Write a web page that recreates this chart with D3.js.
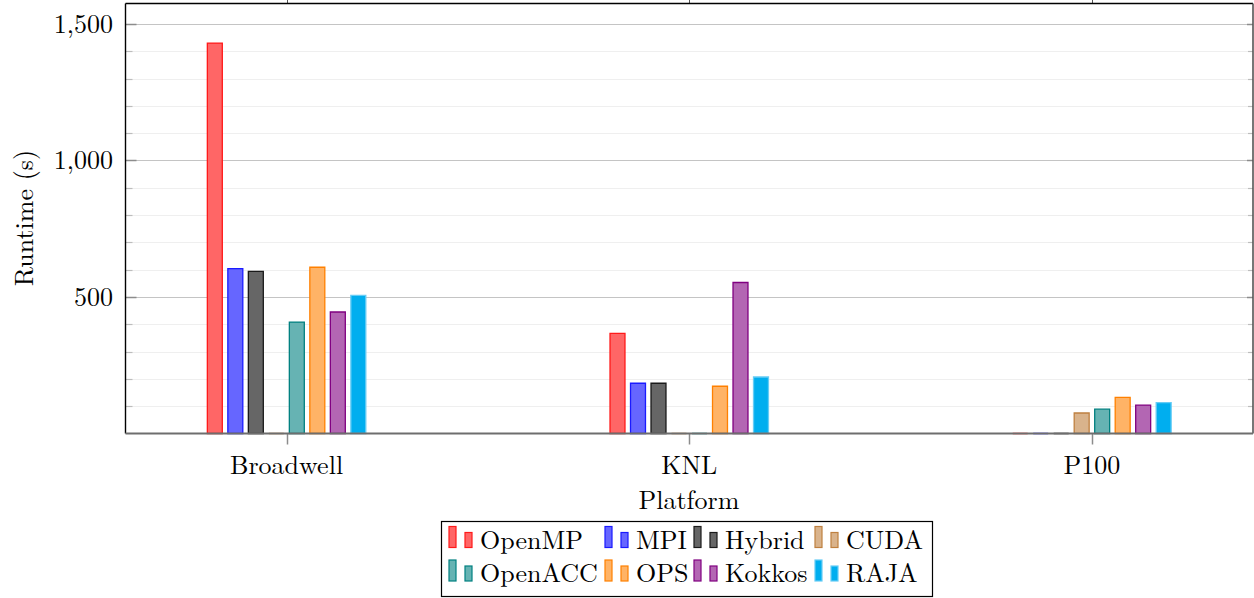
<!DOCTYPE html>
<html>
<head>
<meta charset="utf-8">
<script src="https://cdn.jsdelivr.net/npm/d3@7"></script>
<style>
  html, body { margin: 0; padding: 0; background: #fff; }
  svg { display: block; }
</style>
</head>
<body>
<svg id="chart" width="1254" height="598"></svg>
<script>
// Runtime (s) per programming model on each platform
const platforms = ["Broadwell", "KNL", "P100"];
const models = ["OpenMP", "MPI", "Hybrid", "CUDA", "OpenACC", "OPS", "Kokkos", "RAJA"];
const openmp  = [1430, 367, 0];
const mpi     = [604, 184, 0];
const hybrid  = [594, 184, 0];
const cuda    = [0, 0, 75];
const openacc = [408, 0, 89];
const ops     = [609, 173, 132];
const kokkos  = [445, 553, 104];
const raja    = [506, 207, 113];
const yTicks = [500, 1000, 1500];
const yMinorTicks = [100, 200, 300, 400, 600, 700, 800, 900, 1100, 1200, 1300, 1400];

const seriesValues = [openmp, mpi, hybrid, cuda, openacc, ops, kokkos, raja];
const fills   = ["#ff6666", "#6666ff", "#666666", "#d9b38c", "#66b3b3", "#ffb366", "#b366b3", "#00aeef"];
const strokes = ["#ff1a1a", "#1a1aff", "#1a1a1a", "#bf8040", "#008080", "#ff8000", "#800080", "#66ccf5"];

const FONT = "Latin Modern Roman";
const FS = 26;
const svg = d3.select("#chart");
const L = 125.5, R = 1253, T = 3.5, B = 433.5;

const x = d3.scalePoint().domain(platforms).range([L, R]).padding(0.4);
const xi = d3.scaleBand().domain(models).range([-82, 82]).paddingInner(0.27).paddingOuter(0.135);
const y = d3.scaleLinear().domain([0, 1575]).range([B, T]);
const py = d => Math.round(y(d)) + 0.5;

function label(sel) {
  return sel.style("font-family", FONT).attr("font-size", FS).attr("fill", "#000");
}

// grid lines
svg.append("g").selectAll("line").data(yMinorTicks).join("line")
  .attr("x1", L).attr("x2", R).attr("y1", py).attr("y2", py)
  .attr("stroke", "#efefef").attr("stroke-width", 1);
svg.append("g").selectAll("line").data(yTicks).join("line")
  .attr("x1", L).attr("x2", R).attr("y1", py).attr("y2", py)
  .attr("stroke", "#c4c4c4").attr("stroke-width", 1.2);

// minor / major tick marks on left and right
svg.append("g").selectAll("line").data(yMinorTicks).join("line")
  .attr("x1", L).attr("x2", L + 7).attr("y1", py).attr("y2", py)
  .attr("stroke", "#bdbdbd").attr("stroke-width", 1.2);
svg.append("g").selectAll("line").data(yMinorTicks).join("line")
  .attr("x1", R - 5).attr("x2", R).attr("y1", py).attr("y2", py)
  .attr("stroke", "#bdbdbd").attr("stroke-width", 1.2);
svg.append("g").selectAll("line").data(yTicks).join("line")
  .attr("x1", L).attr("x2", L + 11).attr("y1", py).attr("y2", py)
  .attr("stroke", "#8c8c8c").attr("stroke-width", 1.5);
svg.append("g").selectAll("line").data(yTicks).join("line")
  .attr("x1", R - 6).attr("x2", R).attr("y1", py).attr("y2", py)
  .attr("stroke", "#8c8c8c").attr("stroke-width", 1.5);

// x tick marks: bottom and top, pointing outward
svg.append("g").selectAll("line").data(platforms).join("line")
  .attr("x1", d => Math.round(x(d)) + 0.5).attr("x2", d => Math.round(x(d)) + 0.5)
  .attr("y1", B).attr("y2", B + 11)
  .attr("stroke", "#8c8c8c").attr("stroke-width", 1.5);
svg.append("g").selectAll("line").data(platforms).join("line")
  .attr("x1", d => Math.round(x(d)) + 0.5).attr("x2", d => Math.round(x(d)) + 0.5)
  .attr("y1", 0).attr("y2", T)
  .attr("stroke", "#555").attr("stroke-width", 1);

// bars (paths so zero-height bars still show as a flat stroke)
const bars = [];
models.forEach((m, si) => {
  platforms.forEach((p, pi) => {
    bars.push({ model: m, si, platform: p, value: seriesValues[si][pi] });
  });
});
svg.append("g").selectAll("path").data(bars).join("path")
  .attr("d", d => {
    const x0 = x(d.platform) + xi(d.model);
    const w = xi.bandwidth();
    const y0 = y(d.value), y1 = y(0);
    return `M${x0},${y1}V${y0}H${x0 + w}V${y1}Z`;
  })
  .attr("fill", d => fills[d.si])
  .attr("stroke", d => strokes[d.si])
  .attr("stroke-width", 1.3);

// frame
svg.append("line").attr("x1", L).attr("x2", L).attr("y1", T).attr("y2", B)
  .attr("stroke", "#000").attr("stroke-width", 1.4);
svg.append("line").attr("x1", L).attr("x2", R).attr("y1", T).attr("y2", T)
  .attr("stroke", "#000").attr("stroke-width", 1.4);
svg.append("line").attr("x1", R).attr("x2", R).attr("y1", T).attr("y2", B)
  .attr("stroke", "#555").attr("stroke-width", 1.6);
svg.append("line").attr("x1", L).attr("x2", R).attr("y1", B).attr("y2", B)
  .attr("stroke", "#6e6e6e").attr("stroke-width", 2);

// tick labels
const fmt = d3.format(",");
svg.append("g").selectAll("text").data(yTicks).join("text")
  .attr("x", 113).attr("y", d => y(d) + 9)
  .attr("text-anchor", "end")
  .call(label)
  .text(d => fmt(d));
svg.append("g").selectAll("text").data(platforms).join("text")
  .attr("x", d => x(d)).attr("y", 473.5)
  .attr("text-anchor", "middle")
  .call(label)
  .text(d => d);

// axis titles
svg.append("text").attr("x", 689).attr("y", 508.5)
  .attr("text-anchor", "middle").call(label).text("Platform");
svg.append("text")
  .attr("transform", "translate(33,218) rotate(-90)")
  .attr("text-anchor", "middle").call(label).text("Runtime (s)");

// legend
const legendCols = [449, 605, 694, 815];
const legendRows = [547.5, 581];
const lg = svg.append("g");
lg.append("rect").attr("x", 441.5).attr("y", 521.5).attr("width", 491).attr("height", 75)
  .attr("fill", "#fff").attr("stroke", "#000").attr("stroke-width", 1.2);
models.forEach((m, i) => {
  const cx = legendCols[i % 4], by = legendRows[Math.floor(i / 4)];
  const g = lg.append("g");
  g.append("rect").attr("x", cx).attr("y", by - 21).attr("width", 7).attr("height", 21)
    .attr("fill", fills[i]).attr("stroke", strokes[i]).attr("stroke-width", 1.2);
  g.append("rect").attr("x", cx + 16).attr("y", by - 15).attr("width", 7).attr("height", 15)
    .attr("fill", fills[i]).attr("stroke", strokes[i]).attr("stroke-width", 1.2);
  g.append("text").attr("x", cx + 31).attr("y", by + 1).call(label).text(m);
});
</script>
</body>
</html>
